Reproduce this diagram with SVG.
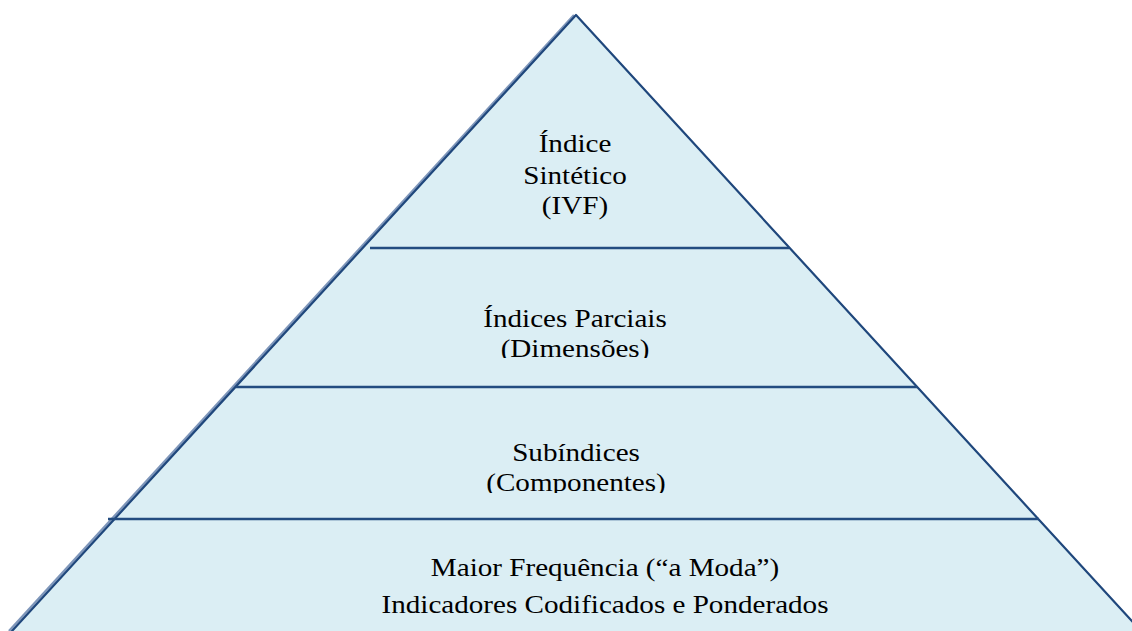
<svg xmlns="http://www.w3.org/2000/svg" width="1132" height="631" viewBox="0 0 1132 631">
  <style>
    .edge { fill: none; stroke: #1f477c; stroke-width: 2.2; stroke-linecap: round; stroke-linejoin: round; }
    .shade { fill: none; stroke: #7e96ba; stroke-width: 2.4; }
    .tier { fill: none; stroke: #234c80; stroke-width: 2.6; }
    .lbl { font-family: "Liberation Serif", "Times New Roman", serif; font-size: 25px; fill: #000; text-anchor: middle; }
  </style>
  <defs>
    <clipPath id="clipMid">
      <rect x="300" y="290" width="560" height="68"/>
    </clipPath>
    <clipPath id="clipLow">
      <rect x="200" y="425" width="760" height="68"/>
    </clipPath>
  </defs>

  <rect width="1132" height="631" fill="#ffffff"/>

  <!-- pyramid body -->
  <g id="pyramid">
    <polygon points="576,15 12,631 1141,631" fill="#dbeef4"/>
    <path class="shade" d="M574,15 L9,631"/>
    <path class="edge" d="M12,631 L576,15 L1141,631"/>
  </g>

  <!-- tier separators -->
  <g id="connectors">
    <line class="tier" x1="370" y1="248" x2="789" y2="248"/>
    <line class="tier" x1="236" y1="387" x2="917" y2="387"/>
    <line class="tier" x1="108" y1="519" x2="1039" y2="519"/>
  </g>

  <g id="tier-top">
    <g transform="translate(575 0) scale(1.165 1)">
      <text class="lbl" x="0" y="152">Índice</text>
      <text class="lbl" x="0" y="184">Sintético</text>
      <text class="lbl" x="0" y="214">(IVF)</text>
    </g>
  </g>

  <g id="tier-partial" clip-path="url(#clipMid)">
    <g transform="translate(575 0) scale(1.165 1)">
      <text class="lbl" x="0" y="327">Índices Parciais</text>
      <text class="lbl" x="0" y="357">(Dimensões)</text>
    </g>
  </g>

  <g id="tier-sub" clip-path="url(#clipLow)">
    <g transform="translate(576 0) scale(1.165 1)">
      <text class="lbl" x="0" y="461">Subíndices</text>
      <text class="lbl" x="0" y="491">(Componentes)</text>
    </g>
  </g>

  <g id="tier-base">
    <g transform="translate(605 0) scale(1.165 1)">
      <text class="lbl" x="0" y="576">Maior Frequência (“a Moda”)</text>
      <text class="lbl" x="0" y="613">Indicadores Codificados e Ponderados</text>
    </g>
  </g>
</svg>
